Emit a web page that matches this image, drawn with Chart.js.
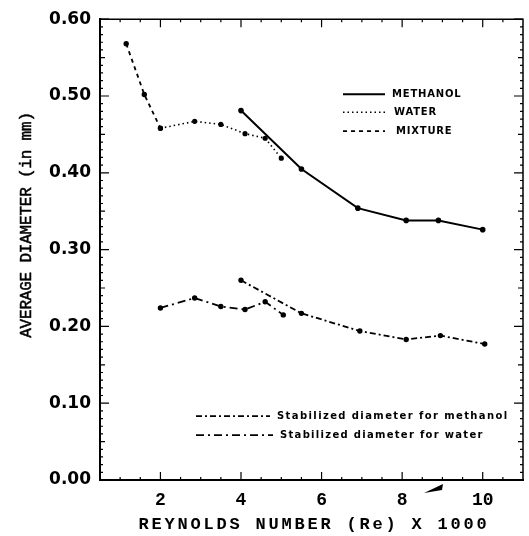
<!DOCTYPE html>
<html>
<head>
<meta charset="utf-8">
<script src="https://cdn.jsdelivr.net/npm/chart.js@4"></script>
<style>
  html, body { margin: 0; padding: 0; background: #fff; }
  #wrap { width: 529px; height: 536px; }
</style>
</head>
<body>
<div id="wrap"><canvas id="chart" width="529" height="536"></canvas></div>
<script>
// values
const xTicks = [2, 4, 6, 8, 10];

const methanolRe = [4.0, 5.5, 6.9, 8.1, 8.9, 10.0];
const methanolD  = [0.481, 0.405, 0.354, 0.338, 0.338, 0.326];

const waterRe = [2.0, 2.85, 3.5, 4.1, 4.6, 5.0];
const waterD  = [0.458, 0.467, 0.463, 0.451, 0.445, 0.419];

const mixtureRe = [1.15, 1.6, 2.0];
const mixtureD  = [0.568, 0.502, 0.458];

const stabMethRe = [4.0, 5.5, 6.95, 8.1, 8.95, 10.05];
const stabMethD  = [0.260, 0.217, 0.194, 0.183, 0.188, 0.177];

const stabWaterRe = [2.0, 2.85, 3.5, 4.1, 4.6, 5.05];
const stabWaterD  = [0.224, 0.237, 0.226, 0.222, 0.232, 0.215];

const pts = (xs, ys) => xs.map((x, i) => ({ x: x, y: ys[i] }));

function series(label, xs, ys, dash, width) {
    return {
        label: label,
        data: pts(xs, ys),
        borderColor: '#000',
        backgroundColor: '#000',
        borderWidth: width,
        borderDash: dash,
        pointRadius: 1.8,
        pointStyle: 'circle',
        tension: 0,
        fill: false
    };
}

const datasets = [
    series('METHANOL', methanolRe, methanolD, [], 2),
    series('WATER', waterRe, waterD, [1.5, 3], 1.6),
    series('MIXTURE', mixtureRe, mixtureD, [4, 4], 1.8),
    series('Stabilized diameter for methanol', stabMethRe, stabMethD, [6, 3, 2, 3], 1.8),
    series('Stabilized diameter for water', stabWaterRe, stabWaterD, [8, 4, 2, 4], 1.8)
];

// legend rows: dataset index, line start/end and text start, offsets from chart area
const legendRows = [
    { ds: 0, x0: 243, x1: 285, tx: 292, dy: 75, size: 10, sp: 0.8 },
    { ds: 1, x0: 243, x1: 285, tx: 294, dy: 93, size: 10, sp: 0.8 },
    { ds: 2, x0: 243, x1: 285, tx: 296, dy: 112, size: 10, sp: 0.8 },
    { ds: 3, x0: 96, x1: 170, tx: 177, dy: 397, size: 10, sp: 1.4 },
    { ds: 4, x0: 96, x1: 173, tx: 180, dy: 416, size: 10, sp: 1.3 }
];

const framePlugin = {
    id: 'frame',
    afterDraw(chart) {
        const ctx = chart.ctx;
        const a = chart.chartArea;
        const xs = chart.scales.x, ys = chart.scales.y;
        ctx.save();
        ctx.strokeStyle = '#000';
        ctx.fillStyle = '#000';

        // box
        ctx.lineWidth = 1.5;
        ctx.beginPath();
        ctx.moveTo(a.left, a.top); ctx.lineTo(a.right, a.top); ctx.lineTo(a.right, a.bottom);
        ctx.stroke();

        // inward ticks, y axes
        ctx.lineWidth = 1.2;
        for (let i = 0; i <= 60; i++) {
            const y = ys.getPixelForValue(i / 100);
            const len = i % 10 === 0 ? 9 : (i % 5 === 0 ? 5 : 3);
            ctx.beginPath();
            ctx.moveTo(a.left, y); ctx.lineTo(a.left + len, y);
            ctx.moveTo(a.right, y); ctx.lineTo(a.right - len, y);
            ctx.stroke();
        }
        // inward ticks, x axes
        for (let v = 1; v <= 10.5; v += 0.5) {
            const x = xs.getPixelForValue(v);
            const len = v % 2 === 0 ? 8 : 3;
            ctx.beginPath();
            ctx.moveTo(x, a.bottom); ctx.lineTo(x, a.bottom - len);
            ctx.moveTo(x, a.top); ctx.lineTo(x, a.top + len);
            ctx.stroke();
        }

        // small smudge below the axis near Re 9
        ctx.beginPath();
        ctx.moveTo(a.left + 324, a.bottom + 13);
        ctx.lineTo(a.left + 343, a.bottom + 4);
        ctx.lineTo(a.left + 342, a.bottom + 10);
        ctx.closePath();
        ctx.fill();

        // axis titles
        ctx.textAlign = 'center';
        ctx.textBaseline = 'middle';
        ctx.font = 'bold 17px "Liberation Mono"';
        ctx.letterSpacing = '2.8px';
        ctx.fillText('REYNOLDS NUMBER (Re) X 1000', 314, 525);

        ctx.save();
        ctx.translate(27, 225);
        ctx.rotate(-Math.PI / 2);
        ctx.font = '16px "Liberation Mono"';
        ctx.letterSpacing = '-0.2px';
        ctx.lineWidth = 0.5;
        ctx.fillText('AVERAGE DIAMETER (in mm)', 0, 0);
        ctx.strokeText('AVERAGE DIAMETER (in mm)', 0, 0);
        ctx.restore();

        // legend
        ctx.textAlign = 'left';
        legendRows.forEach(r => {
            const d = chart.data.datasets[r.ds];
            const y = a.top + r.dy;
            ctx.lineWidth = d.borderWidth;
            ctx.setLineDash(d.borderDash);
            ctx.beginPath();
            ctx.moveTo(a.left + r.x0, y); ctx.lineTo(a.left + r.x1, y);
            ctx.stroke();
            ctx.setLineDash([]);
            ctx.font = 'bold ' + r.size + 'px "DejaVu Sans"';
            ctx.letterSpacing = r.sp + 'px';
            ctx.fillText(d.label, a.left + r.tx, y);
        });
        ctx.restore();
    }
};

new Chart(document.getElementById('chart'), {
    type: 'line',
    data: { datasets: datasets },
    options: {
        responsive: false,
        animation: false,
        layout: { padding: { top: 12, right: 6, left: 0, bottom: 0 } },
        plugins: { legend: { display: false }, tooltip: { enabled: false } },
        scales: {
            x: {
                type: 'linear',
                min: 0.5,
                max: 11,
                afterBuildTicks: scale => { scale.ticks = xTicks.map(v => ({ value: v })); },
                afterFit: scale => { scale.height = 56; },
                grid: { drawOnChartArea: false, drawTicks: false },
                border: { display: true, color: '#000', width: 2 },
                ticks: {
                    color: '#000',
                    padding: 10,
                    maxRotation: 0,
                    font: { family: 'Liberation Mono', size: 18, weight: 'bold' }
                }
            },
            y: {
                min: 0,
                max: 0.6,
                afterFit: scale => { scale.width = 100; },
                grid: { drawOnChartArea: false, drawTicks: false },
                border: { display: true, color: '#000', width: 2 },
                ticks: {
                    stepSize: 0.1,
                    color: '#000',
                    padding: 9,
                    callback: v => v.toFixed(2),
                    font: { family: 'DejaVu Sans', size: 17, weight: 'bold' }
                }
            }
        }
    },
    plugins: [framePlugin]
});
</script>
</body>
</html>
